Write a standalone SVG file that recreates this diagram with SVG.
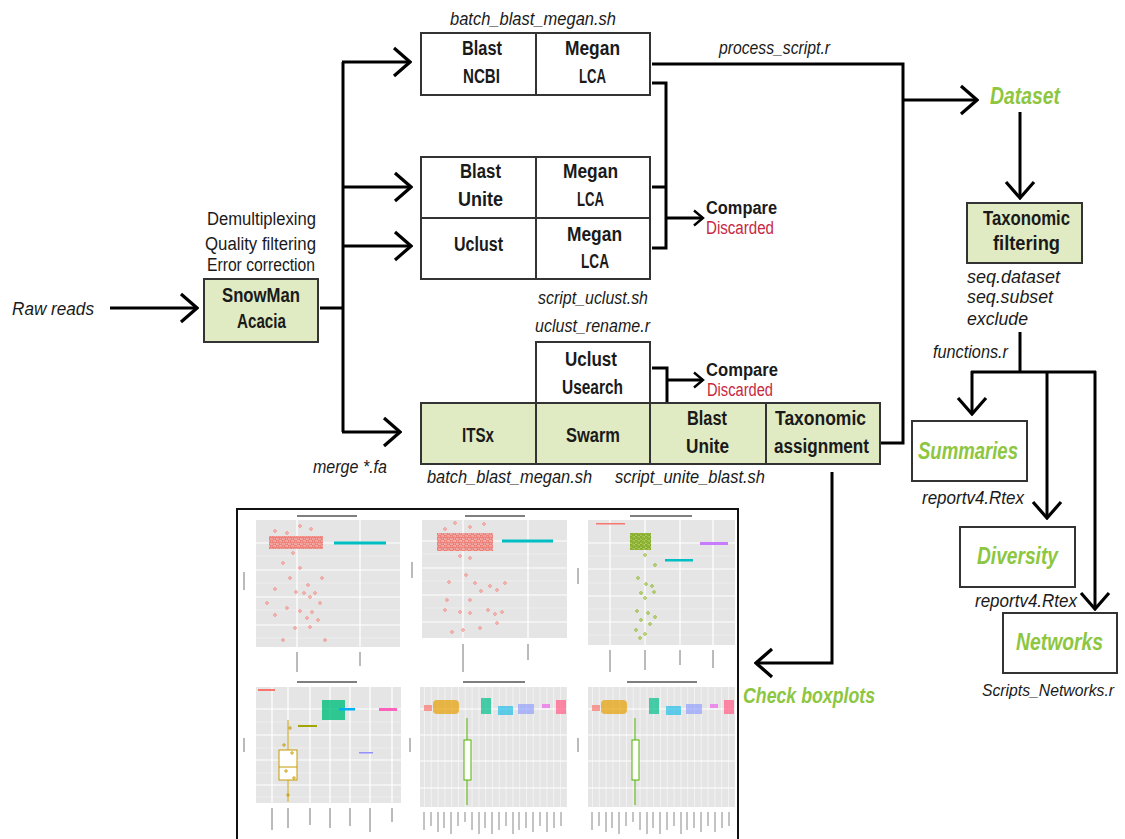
<svg xmlns="http://www.w3.org/2000/svg" width="1125" height="839" viewBox="0 0 1125 839">
<style>
text{font-family:"Liberation Sans",Arial,sans-serif;fill:#1a1a1a}
.m{text-anchor:middle}
.it{font-style:italic;font-size:18px}
.b{font-weight:bold;font-size:20px;text-anchor:middle}
.n{font-size:18px;text-anchor:middle}
.g{fill:#8dc63f;font-weight:bold;font-style:italic;font-size:23px}
.cmp{font-weight:bold;font-size:18px}
.red{fill:#c8283f;font-size:18px}
.box{stroke:#333;stroke-width:2}
.gf{fill:#e1ebc3}
.wf{fill:#fff}
.dv{stroke:#333;stroke-width:2}
.conn{fill:none;stroke:#000;stroke-width:3}
.pbg{fill:#e5e5e5}
.gmaj{stroke:#fff;stroke-width:1.2}
.gmin{stroke:#fff;stroke-width:.5;opacity:.8}
.rp{fill:none;stroke:#f8766d;stroke-width:.8}
.gp{fill:none;stroke:#7cae00;stroke-width:.8}
.tk{stroke:#777;stroke-width:1}
.tt{stroke:#555;stroke-width:1.6}
</style>
<defs>
<marker id="ah" markerUnits="userSpaceOnUse" viewBox="0 0 20 32" refX="18" refY="16" markerWidth="20" markerHeight="32" orient="auto"><path d="M2,2 L18,16 L2,30" fill="none" stroke="#000" stroke-width="3.2"/></marker>
<marker id="ahs" markerUnits="userSpaceOnUse" viewBox="0 0 12 18" refX="10.5" refY="9" markerWidth="12" markerHeight="18" orient="auto"><path d="M1.5,1.5 L10.5,9 L1.5,16.5" fill="none" stroke="#000" stroke-width="2.4"/></marker>
<pattern id="rdots" width="6" height="5" patternUnits="userSpaceOnUse"><circle cx="1.5" cy="1.5" r="1.3" fill="none" stroke="#e8564b" stroke-width=".7"/><circle cx="4.5" cy="3.6" r="1.3" fill="none" stroke="#e8564b" stroke-width=".7"/></pattern>
<pattern id="gdots" width="5" height="4" patternUnits="userSpaceOnUse"><circle cx="1.2" cy="1.2" r="1.1" fill="none" stroke="#6a9a00" stroke-width=".7"/><circle cx="3.7" cy="3" r="1.1" fill="none" stroke="#6a9a00" stroke-width=".7"/></pattern>
<pattern id="vgrid" x="424" width="6.8" height="10" patternUnits="userSpaceOnUse"><line x1="0" y1="0" x2="0" y2="10" stroke="#fff" stroke-width="1"/></pattern>
<pattern id="vgrid2" x="592" width="6.8" height="10" patternUnits="userSpaceOnUse"><line x1="0" y1="0" x2="0" y2="10" stroke="#fff" stroke-width="1"/></pattern>
</defs>

<!-- plots panel -->
<g id="plots">
<rect x="237" y="509" width="501" height="345" fill="#fff" stroke="#111" stroke-width="2"/>
<line class="tt" x1="297" y1="516" x2="357" y2="516"/>
<line class="tt" x1="465" y1="516" x2="525" y2="516"/>
<line class="tt" x1="630" y1="516" x2="692" y2="516"/>
<line class="tt" x1="297" y1="682" x2="357" y2="682"/>
<line class="tt" x1="463" y1="682" x2="525" y2="682"/>
<line class="tt" x1="627" y1="682" x2="697" y2="682"/>
<!-- panel 1 -->
<rect class="pbg" x="256" y="520" width="144" height="127"/>
<g class="gmin"><line x1="256" y1="556" x2="400" y2="556"/><line x1="256" y1="583" x2="400" y2="583"/><line x1="256" y1="610" x2="400" y2="610"/><line x1="256" y1="638" x2="400" y2="638"/></g>
<g class="gmaj"><line x1="256" y1="543" x2="400" y2="543"/><line x1="256" y1="570" x2="400" y2="570"/><line x1="256" y1="597" x2="400" y2="597"/><line x1="256" y1="625" x2="400" y2="625"/><line x1="297" y1="520" x2="297" y2="647"/><line x1="360" y1="520" x2="360" y2="647"/></g>
<rect x="269" y="536" width="54" height="13" fill="#f8766d" opacity=".55"/>
<rect x="269" y="536" width="54" height="13" fill="url(#rdots)"/>
<rect x="334" y="541.5" width="52" height="3" fill="#00bfc4"/>
<g class="rp"><circle cx="275" cy="531" r="1.3"/><circle cx="300" cy="526" r="1.3"/><circle cx="287" cy="533" r="1.3"/><circle cx="311" cy="529" r="1.3"/><circle cx="293" cy="553" r="1.3"/><circle cx="283" cy="563" r="1.3"/><circle cx="300" cy="568" r="1.3"/><circle cx="290" cy="578" r="1.3"/><circle cx="308" cy="585" r="1.3"/><circle cx="275" cy="589" r="1.3"/><circle cx="296" cy="592" r="1.3"/><circle cx="315" cy="593" r="1.3"/><circle cx="322" cy="578" r="1.3"/><circle cx="304" cy="593" r="1.3"/><circle cx="310" cy="597" r="1.3"/><circle cx="287" cy="608" r="1.3"/><circle cx="300" cy="611" r="1.3"/><circle cx="312" cy="612" r="1.3"/><circle cx="307" cy="618" r="1.3"/><circle cx="275" cy="615" r="1.3"/><circle cx="318" cy="620" r="1.3"/><circle cx="295" cy="628" r="1.3"/><circle cx="325" cy="640" r="1.3"/><circle cx="283" cy="640" r="1.3"/><circle cx="310" cy="627" r="1.3"/><circle cx="267" cy="603" r="1.3"/><circle cx="320" cy="603" r="1.3"/></g>
<!-- panel 2 -->
<rect class="pbg" x="422" y="520" width="145" height="118"/>
<g class="gmin"><line x1="422" y1="554" x2="567" y2="554"/><line x1="422" y1="581" x2="567" y2="581"/><line x1="422" y1="608" x2="567" y2="608"/></g>
<g class="gmaj"><line x1="422" y1="541" x2="567" y2="541"/><line x1="422" y1="568" x2="567" y2="568"/><line x1="422" y1="595" x2="567" y2="595"/><line x1="422" y1="622" x2="567" y2="622"/><line x1="463" y1="520" x2="463" y2="638"/><line x1="528" y1="520" x2="528" y2="638"/></g>
<rect x="437" y="533" width="56" height="18" fill="#f8766d" opacity=".55"/>
<rect x="437" y="533" width="56" height="18" fill="url(#rdots)"/>
<rect x="502" y="539.5" width="51" height="3" fill="#00bfc4"/>
<g class="rp"><circle cx="445" cy="529" r="1.3"/><circle cx="455" cy="523" r="1.3"/><circle cx="470" cy="527" r="1.3"/><circle cx="484" cy="524" r="1.3"/><circle cx="460" cy="556" r="1.3"/><circle cx="470" cy="558" r="1.3"/><circle cx="466" cy="575" r="1.3"/><circle cx="449" cy="582" r="1.3"/><circle cx="475" cy="583" r="1.3"/><circle cx="490" cy="586" r="1.3"/><circle cx="497" cy="590" r="1.3"/><circle cx="505" cy="583" r="1.3"/><circle cx="481" cy="591" r="1.3"/><circle cx="447" cy="600" r="1.3"/><circle cx="445" cy="610" r="1.3"/><circle cx="460" cy="612" r="1.3"/><circle cx="470" cy="613" r="1.3"/><circle cx="488" cy="610" r="1.3"/><circle cx="495" cy="614" r="1.3"/><circle cx="502" cy="612" r="1.3"/><circle cx="452" cy="632" r="1.3"/><circle cx="463" cy="630" r="1.3"/><circle cx="480" cy="628" r="1.3"/><circle cx="497" cy="623" r="1.3"/><circle cx="470" cy="600" r="1.3"/></g>
<!-- panel 3 -->
<rect class="pbg" x="588" y="520" width="147" height="125"/>
<g class="gmin"><line x1="588" y1="556" x2="735" y2="556"/><line x1="588" y1="583" x2="735" y2="583"/><line x1="588" y1="609" x2="735" y2="609"/><line x1="588" y1="635" x2="735" y2="635"/></g>
<g class="gmaj"><line x1="588" y1="543" x2="735" y2="543"/><line x1="588" y1="569" x2="735" y2="569"/><line x1="588" y1="596" x2="735" y2="596"/><line x1="588" y1="622" x2="735" y2="622"/><line x1="610" y1="520" x2="610" y2="645"/><line x1="645" y1="520" x2="645" y2="645"/><line x1="680" y1="520" x2="680" y2="645"/><line x1="713" y1="520" x2="713" y2="645"/></g>
<rect x="596" y="523" width="29" height="1.5" fill="#f8766d"/>
<rect x="630" y="533" width="21" height="17" fill="#7cae00" opacity=".6"/>
<rect x="630" y="533" width="21" height="17" fill="url(#gdots)"/>
<rect x="665" y="559" width="28" height="2.5" fill="#00bfc4"/>
<rect x="700" y="542" width="28" height="3" fill="#c77cff"/>
<g class="gp"><circle cx="645" cy="555" r="1.3"/><circle cx="655" cy="565" r="1.3"/><circle cx="638" cy="578" r="1.3"/><circle cx="646" cy="584" r="1.3"/><circle cx="652" cy="586" r="1.3"/><circle cx="641" cy="593" r="1.3"/><circle cx="654" cy="592" r="1.3"/><circle cx="645" cy="598" r="1.3"/><circle cx="637" cy="611" r="1.3"/><circle cx="648" cy="613" r="1.3"/><circle cx="641" cy="620" r="1.3"/><circle cx="650" cy="624" r="1.3"/><circle cx="636" cy="630" r="1.3"/><circle cx="645" cy="634" r="1.3"/><circle cx="640" cy="638" r="1.3"/><circle cx="655" cy="617" r="1.3"/></g>
<!-- panel 4 -->
<rect class="pbg" x="256" y="687" width="145" height="116"/>
<g class="gmin"><line x1="256" y1="722" x2="401" y2="722"/><line x1="256" y1="748" x2="401" y2="748"/><line x1="256" y1="773" x2="401" y2="773"/><line x1="256" y1="797" x2="401" y2="797"/></g>
<g class="gmaj"><line x1="256" y1="709" x2="401" y2="709"/><line x1="256" y1="735" x2="401" y2="735"/><line x1="256" y1="760" x2="401" y2="760"/><line x1="256" y1="785" x2="401" y2="785"/><line x1="272" y1="687" x2="272" y2="803"/><line x1="288" y1="687" x2="288" y2="803"/><line x1="310" y1="687" x2="310" y2="803"/><line x1="330" y1="687" x2="330" y2="803"/><line x1="350" y1="687" x2="350" y2="803"/><line x1="370" y1="687" x2="370" y2="803"/><line x1="392" y1="687" x2="392" y2="803"/></g>
<rect x="258" y="689" width="17" height="2" fill="#f8766d"/>
<rect x="298" y="725" width="19" height="2" fill="#a3a500"/>
<rect x="322" y="700" width="23" height="20" fill="#00bf7d" opacity=".8"/>
<rect x="339" y="708" width="16" height="2.5" fill="#00b0f6"/>
<rect x="359" y="752" width="14" height="1.5" fill="#9590ff"/>
<rect x="379" y="708" width="18" height="3" fill="#ff62bc"/>
<g stroke="#c49a00" stroke-width="1" fill="none"><line x1="288" y1="720" x2="288" y2="750"/><line x1="288" y1="780" x2="288" y2="802"/><rect x="279" y="750" width="18" height="30" fill="#fff"/><line x1="279" y1="767" x2="297" y2="767"/><circle cx="284" cy="745" r="1.2"/><circle cx="292" cy="753" r="1.2"/><circle cx="286" cy="771" r="1.2"/><circle cx="294" cy="778" r="1.2"/><circle cx="288" cy="795" r="1.2"/><circle cx="290" cy="728" r="1.2"/></g>
<!-- panel 5 -->
<rect class="pbg" x="420" y="687" width="147" height="120"/>
<rect x="420" y="687" width="147" height="120" fill="url(#vgrid)"/>
<g class="gmaj"><line x1="420" y1="709" x2="567" y2="709"/><line x1="420" y1="735" x2="567" y2="735"/><line x1="420" y1="761" x2="567" y2="761"/><line x1="420" y1="788" x2="567" y2="788"/></g>
<rect x="424" y="705" width="8" height="6" fill="#f8766d" opacity=".7"/>
<rect x="433" y="700" width="26" height="14" rx="4" fill="#e7a000" opacity=".7"/>
<rect x="481" y="698" width="10" height="16" fill="#00c08b" opacity=".7"/>
<rect x="498" y="706" width="15" height="9" fill="#00b8e7" opacity=".6"/>
<rect x="518" y="704" width="16" height="10" fill="#8494ff" opacity=".6"/>
<rect x="542" y="704" width="8" height="4" fill="#ed68ed" opacity=".7"/>
<rect x="556" y="700" width="10" height="14" fill="#ff6c91" opacity=".8"/>
<g stroke="#53b400" stroke-width="1" fill="none"><line x1="467" y1="718" x2="467" y2="805"/><rect x="464" y="740" width="7" height="40" fill="#fff"/></g>
<!-- panel 6 -->
<rect class="pbg" x="588" y="687" width="147" height="120"/>
<rect x="588" y="687" width="147" height="120" fill="url(#vgrid2)"/>
<g class="gmaj"><line x1="588" y1="709" x2="735" y2="709"/><line x1="588" y1="735" x2="735" y2="735"/><line x1="588" y1="761" x2="735" y2="761"/><line x1="588" y1="788" x2="735" y2="788"/></g>
<rect x="592" y="705" width="8" height="6" fill="#f8766d" opacity=".7"/>
<rect x="601" y="700" width="26" height="14" rx="4" fill="#e7a000" opacity=".7"/>
<rect x="649" y="698" width="10" height="16" fill="#00c08b" opacity=".7"/>
<rect x="666" y="706" width="15" height="9" fill="#00b8e7" opacity=".6"/>
<rect x="686" y="704" width="16" height="10" fill="#8494ff" opacity=".6"/>
<rect x="710" y="704" width="8" height="4" fill="#ed68ed" opacity=".7"/>
<rect x="724" y="700" width="10" height="14" fill="#ff6c91" opacity=".8"/>
<g stroke="#53b400" stroke-width="1" fill="none"><line x1="635" y1="718" x2="635" y2="805"/><rect x="632" y="740" width="7" height="40" fill="#fff"/></g>
<!-- axis stubs -->
<g class="tk">
<line x1="297" y1="652" x2="297" y2="672"/><line x1="360" y1="652" x2="360" y2="666"/>
<line x1="463" y1="644" x2="463" y2="672"/><line x1="528" y1="644" x2="528" y2="660"/>
<line x1="610" y1="650" x2="610" y2="672"/><line x1="645" y1="650" x2="645" y2="670"/><line x1="680" y1="650" x2="680" y2="665"/><line x1="713" y1="650" x2="713" y2="668"/>
<line x1="272" y1="808" x2="272" y2="830"/><line x1="288" y1="808" x2="288" y2="828"/><line x1="310" y1="808" x2="310" y2="825"/><line x1="330" y1="808" x2="330" y2="828"/><line x1="350" y1="808" x2="350" y2="826"/><line x1="370" y1="808" x2="370" y2="832"/><line x1="392" y1="808" x2="392" y2="822"/>
</g>
<path d="M424,812 V830 M431,812 V826 M438,812 V832 M444,812 V828 M451,812 V834 M458,812 V826 M465,812 V822 M472,812 V830 M479,812 V834 M485,812 V828 M492,812 V834 M499,812 V830 M506,812 V826 M513,812 V834 M519,812 V830 M526,812 V828 M533,812 V832 M540,812 V826 M547,812 V832 M554,812 V828 M561,812 V826" stroke="#888" stroke-width="1"/>
<path d="M592,812 V830 M599,812 V826 M606,812 V832 M612,812 V828 M619,812 V834 M626,812 V826 M633,812 V822 M640,812 V830 M647,812 V834 M653,812 V828 M660,812 V834 M667,812 V830 M674,812 V826 M681,812 V834 M687,812 V830 M694,812 V828 M701,812 V832 M708,812 V826 M715,812 V832 M722,812 V828 M729,812 V826" stroke="#888" stroke-width="1"/>
<g class="tk"><line x1="244" y1="572" x2="244" y2="590"/><line x1="412" y1="562" x2="412" y2="578"/><line x1="578" y1="568" x2="578" y2="584"/><line x1="244" y1="738" x2="244" y2="752"/><line x1="410" y1="738" x2="410" y2="752"/><line x1="578" y1="738" x2="578" y2="752"/></g>
</g>

<!-- connectors -->
<g id="connectors" class="conn">
<line x1="110" y1="308" x2="197" y2="308" marker-end="url(#ah)"/>
<line x1="320" y1="308" x2="343" y2="308"/>
<line x1="343" y1="62" x2="343" y2="432"/>
<line x1="342" y1="62" x2="410" y2="62" marker-end="url(#ah)"/>
<line x1="342" y1="187" x2="411" y2="187" marker-end="url(#ah)"/>
<line x1="342" y1="246" x2="411" y2="246" marker-end="url(#ah)"/>
<line x1="342" y1="432" x2="400" y2="432" marker-end="url(#ah)"/>
<path d="M652,64 H903 V443 H881"/>
<line x1="903" y1="100" x2="977" y2="100" marker-end="url(#ah)"/>
<path d="M652,83 H666 V248 H652 M652,187 H666"/>
<line x1="666" y1="218" x2="703" y2="218" marker-end="url(#ahs)"/>
<path d="M652,368 H667 V442 H652"/>
<line x1="667" y1="380" x2="703" y2="380" marker-end="url(#ahs)"/>
<line x1="1020" y1="112" x2="1020" y2="198" marker-end="url(#ah)"/>
<path d="M1020,332 V372 M971,372 H1096"/>
<line x1="972" y1="371" x2="972" y2="414" marker-end="url(#ah)"/>
<line x1="1047" y1="371" x2="1047" y2="518" marker-end="url(#ah)"/>
<line x1="1095" y1="371" x2="1095" y2="609" marker-end="url(#ah)"/>
<path d="M832,472 V663 H756" marker-end="url(#ah)"/>
</g>

<g id="raw"><text class="it" x="12" y="315" textLength="82" lengthAdjust="spacingAndGlyphs">Raw reads</text></g>

<g id="snowman">
<text class="n" x="261.5" y="225" textLength="109" lengthAdjust="spacingAndGlyphs">Demultiplexing</text>
<text class="n" x="260.5" y="250" textLength="111" lengthAdjust="spacingAndGlyphs">Quality filtering</text>
<text class="n" x="261" y="271" textLength="108" lengthAdjust="spacingAndGlyphs">Error correction</text>
<rect class="box gf" x="204" y="279" width="114" height="63"/>
<text class="b" x="261" y="302" textLength="78" lengthAdjust="spacingAndGlyphs">SnowMan</text>
<text class="b" x="261.5" y="328" textLength="49" lengthAdjust="spacingAndGlyphs">Acacia</text>
</g>
<g id="merge"><text class="it m" x="350" y="473" textLength="74" lengthAdjust="spacingAndGlyphs">merge *.fa</text></g>

<g id="blast_ncbi">
<text class="it m" x="533" y="25" textLength="166" lengthAdjust="spacingAndGlyphs">batch_blast_megan.sh</text>
<rect class="box wf" x="421" y="33" width="229" height="62"/>
<line class="dv" x1="536" y1="33" x2="536" y2="95"/>
<text class="b" x="482" y="55" textLength="40" lengthAdjust="spacingAndGlyphs">Blast</text>
<text class="b" x="481.5" y="83" textLength="37" lengthAdjust="spacingAndGlyphs">NCBI</text>
<text class="b" x="592.5" y="55" textLength="55" lengthAdjust="spacingAndGlyphs">Megan</text>
<text class="b" x="592.5" y="83" textLength="27" lengthAdjust="spacingAndGlyphs">LCA</text>
</g>
<g id="process_label"><text class="it m" x="774.5" y="54" textLength="111" lengthAdjust="spacingAndGlyphs">process_script.r</text></g>

<g id="blast_unite_uclust">
<rect class="box wf" x="421" y="157" width="229" height="122"/>
<line class="dv" x1="536" y1="157" x2="536" y2="279"/>
<line class="dv" x1="421" y1="218" x2="650" y2="218"/>
<text class="b" x="480.5" y="178" textLength="41" lengthAdjust="spacingAndGlyphs">Blast</text>
<text class="b" x="480.5" y="206" textLength="45" lengthAdjust="spacingAndGlyphs">Unite</text>
<text class="b" x="590.5" y="178" textLength="55" lengthAdjust="spacingAndGlyphs">Megan</text>
<text class="b" x="590.5" y="206" textLength="27" lengthAdjust="spacingAndGlyphs">LCA</text>
<text class="b" x="478.5" y="251" textLength="49" lengthAdjust="spacingAndGlyphs">Uclust</text>
<text class="b" x="594.5" y="241" textLength="55" lengthAdjust="spacingAndGlyphs">Megan</text>
<text class="b" x="595" y="268" textLength="28" lengthAdjust="spacingAndGlyphs">LCA</text>
<text class="it m" x="593" y="304" textLength="110" lengthAdjust="spacingAndGlyphs">script_uclust.sh</text>
</g>

<g id="compare1">
<text class="cmp" x="706" y="214" textLength="71" lengthAdjust="spacingAndGlyphs">Compare</text>
<text class="red" x="706" y="234" textLength="68" lengthAdjust="spacingAndGlyphs">Discarded</text>
</g>

<g id="uclust_usearch">
<text class="it m" x="592.5" y="332" textLength="115" lengthAdjust="spacingAndGlyphs">uclust_rename.r</text>
<rect class="box wf" x="536" y="342" width="114" height="61"/>
<text class="b" x="591" y="366" textLength="52" lengthAdjust="spacingAndGlyphs">Uclust</text>
<text class="b" x="592.5" y="394" textLength="61" lengthAdjust="spacingAndGlyphs">Usearch</text>
</g>

<g id="compare2">
<text class="cmp" x="706" y="376" textLength="72" lengthAdjust="spacingAndGlyphs">Compare</text>
<text class="red" x="707" y="396" textLength="66" lengthAdjust="spacingAndGlyphs">Discarded</text>
</g>

<g id="pipeline">
<rect class="box gf" x="421" y="403" width="459" height="61"/>
<line class="dv" x1="536" y1="403" x2="536" y2="464"/>
<line class="dv" x1="650" y1="403" x2="650" y2="464"/>
<line class="dv" x1="766" y1="403" x2="766" y2="464"/>
<text class="b" x="478" y="442" textLength="32" lengthAdjust="spacingAndGlyphs">ITSx</text>
<text class="b" x="593" y="442" textLength="54" lengthAdjust="spacingAndGlyphs">Swarm</text>
<text class="b" x="707" y="425" textLength="40" lengthAdjust="spacingAndGlyphs">Blast</text>
<text class="b" x="707.5" y="453" textLength="43" lengthAdjust="spacingAndGlyphs">Unite</text>
<text class="b" x="820.5" y="425" textLength="91" lengthAdjust="spacingAndGlyphs">Taxonomic</text>
<text class="b" x="821.5" y="453" textLength="95" lengthAdjust="spacingAndGlyphs">assignment</text>
<text class="it m" x="509.5" y="483" textLength="165" lengthAdjust="spacingAndGlyphs">batch_blast_megan.sh</text>
<text class="it m" x="690" y="483" textLength="150" lengthAdjust="spacingAndGlyphs">script_unite_blast.sh</text>
</g>

<g id="dataset"><text class="g" x="990" y="104" textLength="70" lengthAdjust="spacingAndGlyphs">Dataset</text></g>

<g id="tax_filtering">
<rect class="box gf" x="967" y="203" width="115" height="60"/>
<text class="b" x="1026.5" y="225" textLength="87" lengthAdjust="spacingAndGlyphs">Taxonomic</text>
<text class="b" x="1026.5" y="250" textLength="67" lengthAdjust="spacingAndGlyphs">filtering</text>
<text class="it" x="967" y="283" textLength="93" lengthAdjust="spacingAndGlyphs">seq.dataset</text>
<text class="it" x="967" y="303" textLength="86" lengthAdjust="spacingAndGlyphs">seq.subset</text>
<text class="it" x="967" y="325" textLength="61" lengthAdjust="spacingAndGlyphs">exclude</text>
<text class="it" x="933" y="358" textLength="75" lengthAdjust="spacingAndGlyphs">functions.r</text>
</g>

<g id="summaries">
<rect class="box wf" x="912" y="421" width="115" height="60"/>
<text class="g m" x="968" y="459" textLength="100" lengthAdjust="spacingAndGlyphs">Summaries</text>
<text class="it m" x="973" y="504" textLength="102" lengthAdjust="spacingAndGlyphs">reportv4.Rtex</text>
</g>
<g id="diversity">
<rect class="box wf" x="960" y="527" width="115" height="60"/>
<text class="g m" x="1017.5" y="564" textLength="81" lengthAdjust="spacingAndGlyphs">Diversity</text>
<text class="it m" x="1026" y="607" textLength="102" lengthAdjust="spacingAndGlyphs">reportv4.Rtex</text>
</g>
<g id="networks">
<rect class="box wf" x="1003" y="613" width="114" height="60"/>
<text class="g m" x="1059.5" y="650" textLength="87" lengthAdjust="spacingAndGlyphs">Networks</text>
<text class="it m" x="1048" y="696" style="font-size:16px" textLength="132" lengthAdjust="spacingAndGlyphs">Scripts_Networks.r</text>
</g>

<g id="check"><text class="g" x="743" y="703" style="font-size:22px" textLength="132" lengthAdjust="spacingAndGlyphs">Check boxplots</text></g>
</svg>
